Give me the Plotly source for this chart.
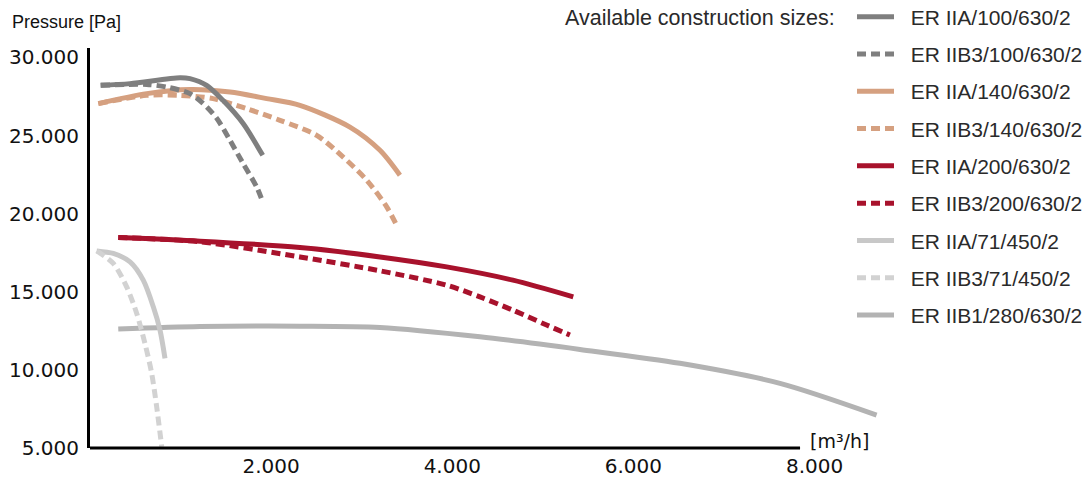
import plotly.graph_objects as go

# ---- data (flow in m³/h, pressure in Pa) ----
names = ["ER IIA/100/630/2", "ER IIB3/100/630/2", "ER IIA/140/630/2", "ER IIB3/140/630/2",
         "ER IIA/200/630/2", "ER IIB3/200/630/2", "ER IIA/71/450/2", "ER IIB3/71/450/2",
         "ER IIB1/280/630/2"]

x_iia100 = [118, 442, 994, 1104, 1288, 1468, 1689, 1907]
y_iia100 = [28210, 28320, 28700, 28640, 28210, 27250, 25780, 23730]

x_iib3_100 = [118, 626, 847, 1104, 1248, 1399, 1546, 1689, 1840, 1907]
y_iib3_100 = [28210, 28270, 28100, 27680, 27060, 26100, 24690, 23220, 21710, 20750]

x_iia140 = [92, 626, 1104, 1546, 1951, 2318, 2870, 3202, 3422]
y_iia140 = [27040, 27680, 27940, 27780, 27360, 26930, 25540, 24050, 22460]

x_iib3_140 = [92, 626, 994, 1358, 1730, 2098, 2503, 2793, 3055, 3276, 3400]
y_iib3_140 = [27040, 27570, 27570, 27360, 26720, 25970, 25010, 23630, 22140, 20430, 19100]

x_iia200 = [312, 1214, 2318, 3202, 3938, 4670, 5336]
y_iia200 = [18470, 18240, 17830, 17230, 16590, 15740, 14670]

x_iib3_200 = [312, 1214, 2318, 3202, 3938, 4306, 4670, 5042, 5299]
y_iib3_200 = [18470, 18200, 17230, 16340, 15420, 14670, 13820, 12870, 12230]

x_iia71 = [74, 257, 442, 588, 699, 773, 828]
y_iia71 = [17615, 17450, 16910, 15740, 14035, 12545, 10735]

x_iib3_71 = [74, 257, 405, 516, 607, 681, 736, 792]
y_iib3_71 = [17615, 16810, 15310, 13610, 11690, 9780, 7640, 5080]

x_iib1_280 = [312, 1214, 2318, 3202, 4306, 5410, 6514, 7618, 8685]
y_iib1_280 = [12610, 12770, 12800, 12720, 12120, 11310, 10420, 9140, 7110]

x_tickvals = [2000, 4000, 6000, 8000]
x_ticktext = ["2.000", "4.000", "6.000", "8.000"]
y_tickvals = [5000, 10000, 15000, 20000, 25000, 30000]
y_ticktext = ["5.000", "10.000", "15.000", "20.000", "25.000", "30.000"]

xs = [x_iia100, x_iib3_100, x_iia140, x_iib3_140, x_iia200, x_iib3_200, x_iia71, x_iib3_71, x_iib1_280]
ys = [y_iia100, y_iib3_100, y_iia140, y_iib3_140, y_iia200, y_iib3_200, y_iia71, y_iib3_71, y_iib1_280]
colors = ["#7f7f7f", "#7f7f7f", "#d5a080", "#d5a080", "#a8122c", "#a8122c", "#c8c8c8", "#d2d2d2", "#b3b3b3"]
dashes = ["solid", "9px,5px", "solid", "9px,5px", "solid", "9px,5px", "solid", "9px,5px", "solid"]
draw_order = [8, 6, 7, 4, 5, 2, 3, 0, 1]
NBSP = "\u00a0"

fig = go.Figure()
for i in draw_order:
    fig.add_trace(go.Scatter(
        x=xs[i], y=ys[i], name=NBSP * 2 + names[i], mode="lines",
        line=dict(color=colors[i], width=5, dash=dashes[i], shape="spline", smoothing=0.8),
        legendrank=i + 1, legendgroup=names[i], hoverinfo="skip",
    ))

FONT_TXT = "Liberation Sans, Arial, sans-serif"
FONT_TICK = "DejaVu Sans, Verdana, sans-serif"

W, H = 1087, 477
ML, MR, MT, MB = 90, 200, 48, 29
PW, PH = W - ML - MR, H - MT - MB  # 797 x 400


def px_x(p):  # page px -> paper x
    return (p - ML) / PW


def px_y(p):  # page px -> paper y
    return (H - MB - p) / PH


fig.update_layout(
    width=W, height=H,
    margin=dict(l=ML, r=MR, t=MT, b=MB, autoexpand=False),
    paper_bgcolor="white", plot_bgcolor="white",
    showlegend=True,
    legend=dict(
        xref="paper", yref="paper", x=px_x(852), y=px_y(-3.5),
        xanchor="left", yanchor="top",
        font=dict(family=FONT_TXT, size=21, color="#2a2a2a"),
        tracegroupgap=7, itemwidth=37, bgcolor="rgba(0,0,0,0)",
        maxheight=470,
    ),
    xaxis=dict(
        range=[0, 8800], showgrid=False, zeroline=False, showline=False,
        tickvals=x_tickvals, ticktext=x_ticktext, ticks="",
        tickfont=dict(family=FONT_TICK, size=20, color="#111"),
        automargin=False, fixedrange=True, ticklabelstandoff=4,
    ),
    yaxis=dict(
        range=[5000, 30600], showgrid=False, zeroline=False,
        showline=True, linecolor="black", linewidth=3,
        tickvals=y_tickvals, ticktext=y_ticktext, ticks="",
        tickfont=dict(family=FONT_TICK, size=20, color="#111"),
        automargin=False, fixedrange=True, ticklabelstandoff=4,
    ),
    shapes=[dict(type="line", xref="x", yref="paper", x0=0, x1=7840, y0=0, y1=0,
                 line=dict(color="black", width=3))],
    annotations=[
        dict(text="Pressure [Pa]", xref="paper", yref="paper", x=px_x(10), y=px_y(22),
             xanchor="left", yanchor="middle", showarrow=False,
             font=dict(family=FONT_TXT, size=18, color="#111")),
        dict(text="[m³/h]", xref="x", yref="paper", x=7840, y=0, xanchor="left",
             yanchor="middle", showarrow=False, xshift=8, yshift=7,
             font=dict(family=FONT_TICK, size=19, color="#111")),
        dict(text="Available construction sizes:", xref="paper", yref="paper",
             x=px_x(837), y=px_y(18), xanchor="right", yanchor="middle",
             showarrow=False, font=dict(family=FONT_TXT, size=21.5, color="#2a2a2a")),
    ],
)

fig.write_html("out.html", post_script="document.body.style.margin='0';",
               config={"displayModeBar": False})
